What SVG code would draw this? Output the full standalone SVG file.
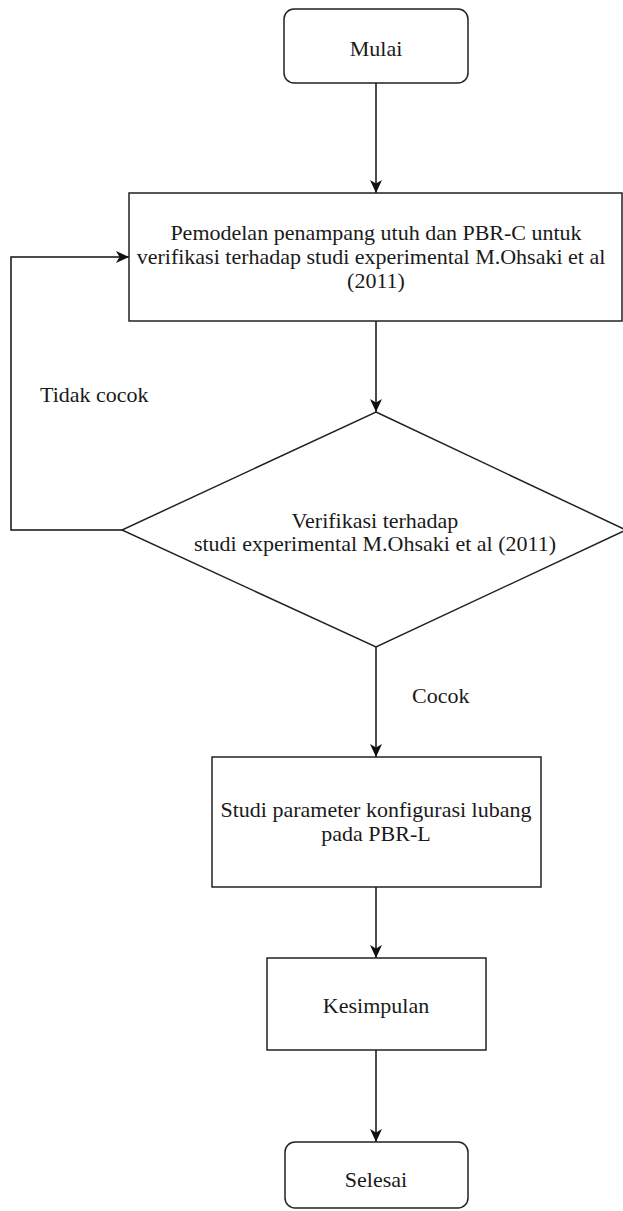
<svg xmlns="http://www.w3.org/2000/svg" width="623" height="1211" viewBox="0 0 623 1211">
  <style>
    .shape { fill: #ffffff; stroke: #222222; stroke-width: 1.5; }
    .conn { fill: none; stroke: #111111; stroke-width: 1.5; }
    .t { font-family: "Liberation Serif", "Times New Roman", serif; font-size: 22px; fill: #1a1a1a; text-anchor: middle; }
    .ts { font-family: "Liberation Serif", "Times New Roman", serif; font-size: 22px; fill: #1a1a1a; }
  </style>
  <defs>
    <marker id="arrow" viewBox="0 0 13 13" refX="13" refY="6.5" markerWidth="13" markerHeight="13" markerUnits="userSpaceOnUse" orient="auto">
      <path d="M0,0.5 L13,6.5 L0,12.5 L3.5,6.5 Z" fill="#111111"/>
    </marker>
  </defs>
  <rect width="623" height="1211" fill="#ffffff"/>

  <g id="connectors">
    <path class="conn" d="M376,83 V193" marker-end="url(#arrow)"/>
    <path class="conn" d="M376,321 V412" marker-end="url(#arrow)"/>
    <path class="conn" d="M376,647 V757" marker-end="url(#arrow)"/>
    <path class="conn" d="M376,887 V958" marker-end="url(#arrow)"/>
    <path class="conn" d="M376,1050 V1142" marker-end="url(#arrow)"/>
    <path class="conn" d="M122,530 H11 V257 H129" marker-end="url(#arrow)"/>
    <text class="ts" x="40" y="402">Tidak cocok</text>
    <text class="ts" x="412" y="703">Cocok</text>
  </g>

  <g id="mulai">
    <rect class="shape" x="284" y="9" width="184" height="74" rx="10" ry="10"/>
    <text class="t" x="376" y="56">Mulai</text>
  </g>

  <g id="pemodelan">
    <rect class="shape" x="129" y="193" width="493" height="128"/>
    <text class="t" x="376" y="240">Pemodelan penampang utuh dan PBR-C untuk</text>
    <text class="t" x="371" y="264">verifikasi terhadap studi experimental M.Ohsaki et al</text>
    <text class="t" x="376" y="288">(2011)</text>
  </g>

  <g id="verifikasi">
    <polygon class="shape" points="376,412 626,530 376,647 122,530"/>
    <text class="t" x="375" y="528">Verifikasi terhadap</text>
    <text class="t" x="375" y="551">studi experimental M.Ohsaki et al (2011)</text>
  </g>

  <g id="studi">
    <rect class="shape" x="212" y="757" width="329" height="130"/>
    <text class="t" x="376" y="817">Studi parameter konfigurasi lubang</text>
    <text class="t" x="376" y="841">pada PBR-L</text>
  </g>

  <g id="kesimpulan">
    <rect class="shape" x="267" y="958" width="219" height="92"/>
    <text class="t" x="376" y="1013">Kesimpulan</text>
  </g>

  <g id="selesai">
    <rect class="shape" x="285" y="1142" width="183" height="66" rx="10" ry="10"/>
    <text class="t" x="376" y="1187">Selesai</text>
  </g>
</svg>
